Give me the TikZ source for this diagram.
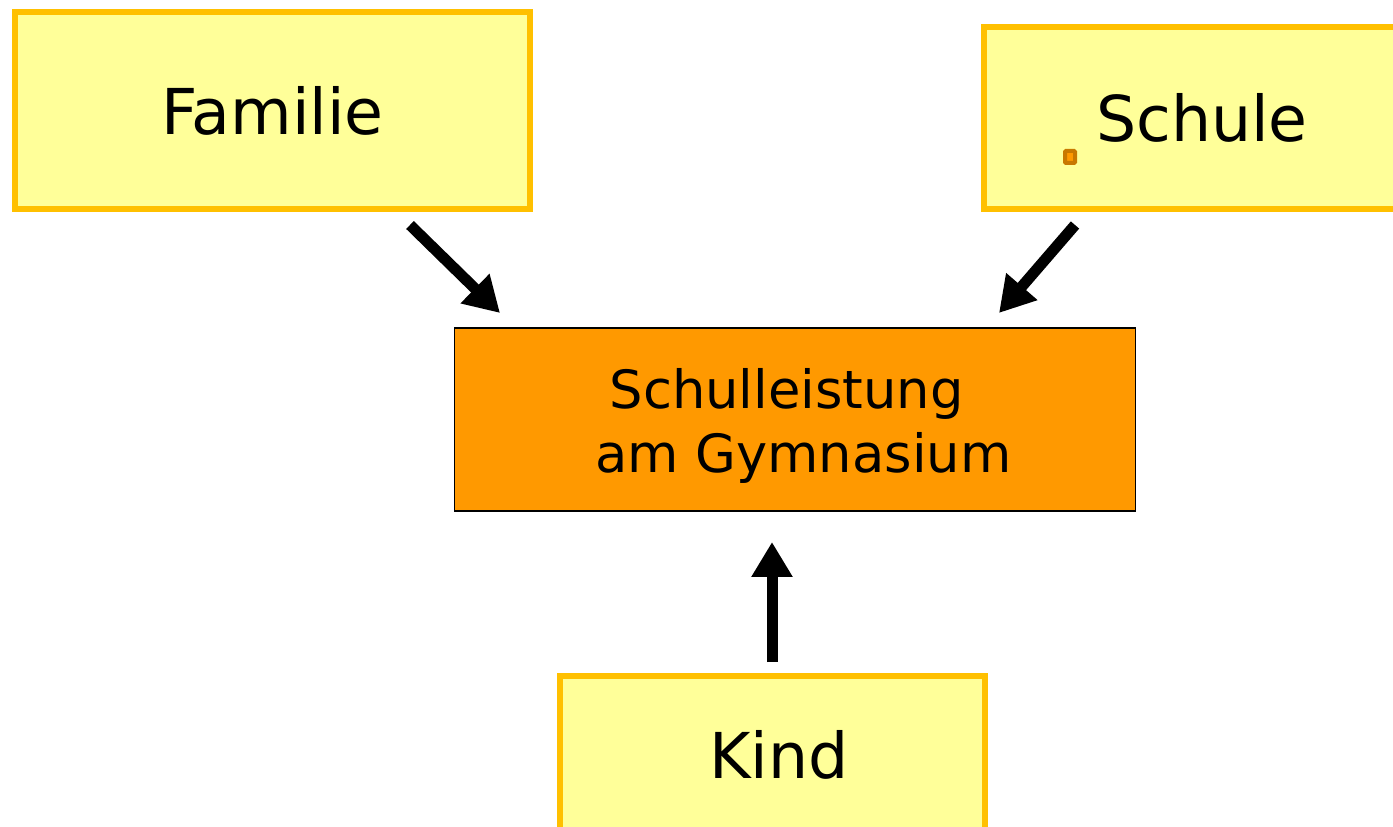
\documentclass[tikz,border=0pt]{standalone}
\usepackage{fontspec}
\setmainfont{DejaVu Sans}
\usepackage{xcolor}
\usetikzlibrary{arrows.meta}

\definecolor{paleyellow}{HTML}{FFFF99}
\definecolor{goldline}{HTML}{FFC000}
\definecolor{perforange}{HTML}{FF9900}
\definecolor{handlebrown}{HTML}{C87800}

\begin{document}
\begin{tikzpicture}[
  x=0.02cm, y=-0.02cm,
  factor/.style={rectangle, draw=goldline, fill=paleyellow, line width=0.12cm, inner sep=0pt, align=center, font=\fontsize{36}{43}\selectfont},
  outcome/.style={rectangle, draw=black, fill=perforange, line width=0.6pt, inner sep=0pt, minimum width=13.64cm, minimum height=3.66cm},
  handle/.style={rectangle, draw=handlebrown, fill=perforange, rounded corners=0.5pt, line width=0.08cm, inner sep=0pt, minimum width=0.2cm, minimum height=0.24cm},
  arr/.style={-{Triangle[length=0.7cm, width=0.78cm]}, line width=0.22cm},
]
  \useasboundingbox (0,0) rectangle (1393,827);
  \clip (0,0) rectangle (1393,827);
  \node[outcome] (perf) at (795,419.5) {};
  \node[align=center, inner sep=0pt, font=\fontsize{30}{36}\selectfont] (perftext) at (795,426) {\mbox{Schulleistung\ }\\\mbox{\ am Gymnasium}};
  \node[factor, minimum width=10.3cm, minimum height=3.94cm] (fam) at (272.5,110.5) {Familie};
  \node[factor, minimum width=8.72cm, minimum height=3.64cm] (school) at (1202,118) {Schule};
  \node[factor, minimum width=8.5cm, minimum height=3.16cm] (child) at (772.5,755) {\hspace*{0.26cm}Kind};
  \node[handle] (dot) at (1070,157) {};
  % arrow ends
  \coordinate (famA) at (410,225);
  \coordinate (famB) at (500,313);
  \coordinate (schoolA) at (1075,225);
  \coordinate (schoolB) at (999,313);
  \coordinate (childA) at (772,662);
  \coordinate (childB) at (772,542);
  \draw[arr] (famA) -- (famB);
  \draw[arr] (schoolA) -- (schoolB);
  \draw[arr] (childA) -- (childB);
\end{tikzpicture}
\end{document}
